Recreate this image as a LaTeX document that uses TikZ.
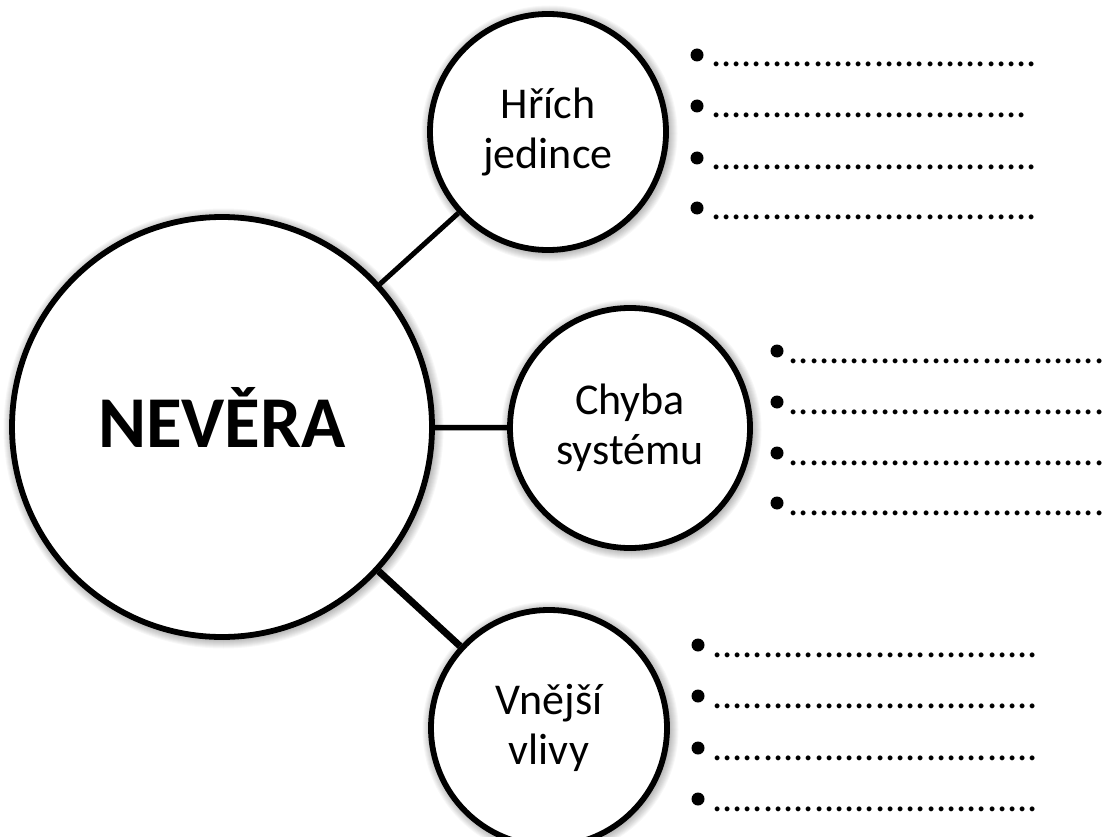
\documentclass[tikz,border=0pt]{standalone}
\usepackage{fontspec}
\setmainfont{Carlito}
\usetikzlibrary{calc}
\newcommand\mysoftshadow[2]{%
  \foreach \k in {1,...,10} {\fill[black,opacity=0.03] ($(#1)+(1.5,1.5)$) circle ({#2+\k});}%
}
\tikzset{
  ring/.style={circle, draw=black, line width=5.8pt, fill=white, inner sep=0pt},
  lab/.style={font=\fontsize{44}{50}\selectfont, align=center},
  conn/.style={draw=black, line width=5.5pt},
  dotrow/.style={font=\fontsize{40.4}{48}\selectfont, inner sep=0pt, anchor=base west},
}
\newcommand\dotsA{................................}
\newcommand\dotsB{...............................}
\begin{document}
\begin{tikzpicture}[x=1pt,y=-1pt]
\clip (0,0) rectangle (1105,837);
\fill[white] (0,0) rectangle (1105,837);
% shadows
\coordinate (cnev) at (222,427);
\coordinate (chr) at (548,132);
\coordinate (cch) at (630,428);
\coordinate (cvn) at (549,728);
\mysoftshadow{cnev}{210}
\mysoftshadow{chr}{118}
\mysoftshadow{cch}{120}
\mysoftshadow{cvn}{118}
% circles
\node[ring, minimum size=420pt, font=\bfseries\fontsize{73}{86}\selectfont, text height=40pt, text depth=0pt] (nev) at (cnev) {NEVĚRA};
\node[ring, lab, minimum size=236pt] (hr) at (chr) {Hřích\\jedince};
\node[ring, lab, minimum size=240pt] (ch) at (cch) {Chyba\\systému};
\node[ring, lab, minimum size=236pt] (vn) at (cvn) {Vnější\\vlivy};
% connectors
\draw[conn, line width=5pt] (nev) -- (hr);
\draw[conn] (nev) -- (ch);
\draw[conn, line width=7pt] (nev) -- (vn);
% top list
\foreach \yy in {55,106,158,208} {
  \fill (697,\yy) circle (6.5);
}
\node[dotrow] (t1) at (711,66.5) {\dotsA};
\node[dotrow] (t2) at (711,117.5) {\dotsB};
\node[dotrow] (t3) at (711,169.5) {\dotsA};
\node[dotrow] (t4) at (711,219.5) {\dotsA};
% middle list
\foreach \yy [count=\i] in {351,402,453,503} {
  \fill (777,\yy) circle (6.5);
  \node[dotrow] (m\i) at (788.5,\yy+12.5) {\dotsB};
}
% bottom list
\foreach \yy [count=\i] in {645,696,748,799} {
  \fill (698,\yy) circle (6.5);
  \node[dotrow] (b\i) at (712,\yy+12.5) {\dotsA};
}
\end{tikzpicture}
\end{document}
